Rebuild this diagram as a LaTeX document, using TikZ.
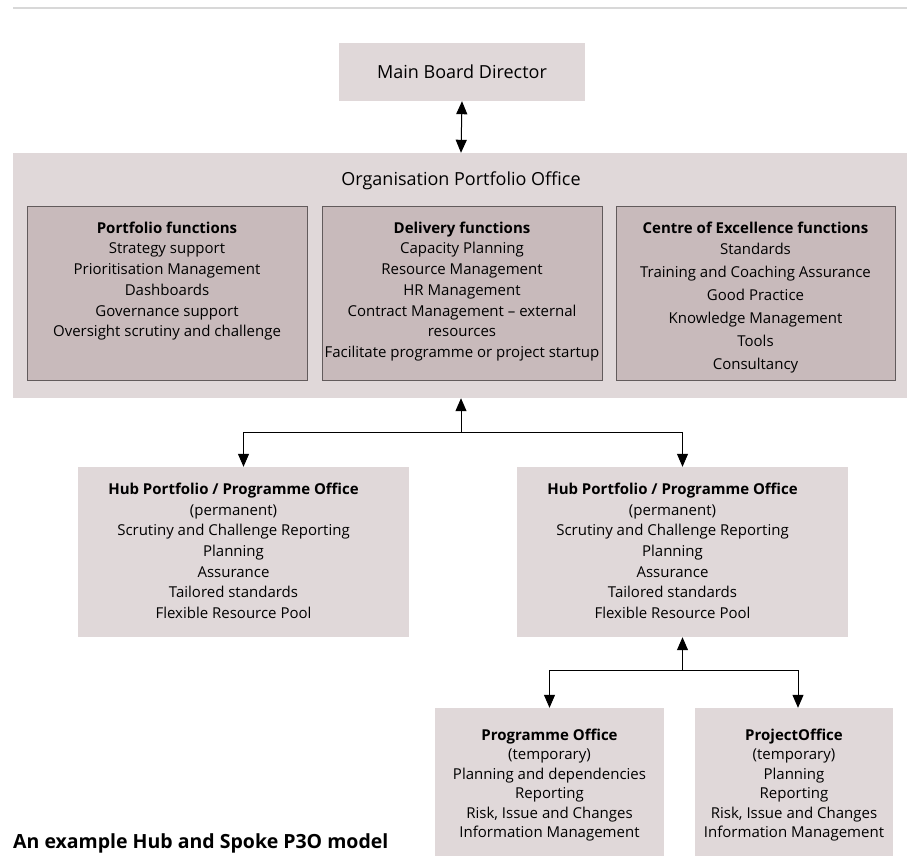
\documentclass[tikz,border=0pt]{standalone}
\usepackage{fontspec}
\setmainfont{Open Sans}
\usetikzlibrary{positioning,arrows.meta}

\definecolor{officefill}{HTML}{E0D8D9}
\definecolor{funcfill}{HTML}{C8BABB}
\definecolor{funcline}{HTML}{625B5C}
\definecolor{rulegray}{HTML}{D8D8D8}

\tikzset{
  office/.style={fill=officefill, inner sep=0pt},
  funcbox/.style={fill=funcfill, draw=funcline, line width=0.9pt, inner sep=0pt},
  boxtext/.style={align=center, inner sep=0pt, anchor=north, font=\fontsize{15}{20.7}\selectfont},
  bigtext/.style={inner sep=0pt, font=\fontsize{18}{22}\selectfont},
  link/.style={line width=1pt, >={Triangle[length=13pt,width=11pt]}, ->},
}

\begin{document}
\begin{tikzpicture}[x=1pt,y=-1pt]
\useasboundingbox (0,0) rectangle (907,855);

% rule at top
  \draw[rulegray, line width=2pt] (13,8) -- (907,8);

% Main board and portfolio office
  \node[office, minimum width=246pt, minimum height=58pt] (main) at (462,72) {};
  \node[bigtext] (maintext) at (main.center) {Main Board Director};

  \node[office, minimum width=896pt, minimum height=245pt] (org) at (461,275.5) {};
  \node[bigtext] (orgtext) at (461,181) {Organisation Portfolio Office};

% Function boxes
  \node[funcbox, minimum width=280pt, minimum height=174pt] (port) at (167,293) {};
  \node[funcbox, minimum width=280pt, minimum height=174pt] (deliv) at (462,293) {};
  \node[funcbox, minimum width=279pt, minimum height=174pt] (coe) at (755.5,293) {};

  \node[boxtext] at ([yshift=-16pt]port.north) {\textbf{Portfolio functions}\\
    Strategy support\\ Prioritisation Management\\ Dashboards\\
    Governance support\\ Oversight scrutiny and challenge};
  \node[boxtext] at ([yshift=-16pt]deliv.north) {\textbf{Delivery functions}\\
    Capacity Planning\\ Resource Management\\ HR Management\\
    Contract Management -- external\\ resources\\
    Facilitate programme or project startup};
  \node[boxtext, font=\fontsize{15}{23}\selectfont] at ([yshift=-16pt]coe.north) {\textbf{Centre of Excellence functions}\\[-2pt]
    Standards\\ Training and Coaching Assurance\\ Good Practice\\
    Knowledge Management\\ Tools\\ Consultancy};

% Hub offices
  \node[office, minimum width=331pt, minimum height=170pt] (hubL) at (243.5,552) {};
  \node[office, minimum width=331pt, minimum height=170pt] (hubR) at (682.5,552) {};
  \foreach \hub in {hubL, hubR}
    \node[boxtext] at ([xshift=-10pt, yshift=-16pt]\hub.north) {\textbf{Hub Portfolio / Programme Office}\\
      (permanent)\\ Scrutiny and Challenge Reporting\\ Planning\\
      Assurance\\ Tailored standards\\ Flexible Resource Pool};

% Temporary offices
  \node[office, minimum width=229pt, minimum height=162pt] (prog) at (549.5,789) {};
  \node[office, minimum width=198pt, minimum height=162pt] (proj) at (794,789) {};
  \node[boxtext, font=\fontsize{15}{19.4}\selectfont] at ([yshift=-21pt]prog.north) {\textbf{Programme Office}\\
    (temporary)\\ Planning and dependencies\\ Reporting\\
    Risk, Issue and Changes\\ Information Management};
  \node[boxtext, font=\fontsize{15}{19.4}\selectfont] at ([yshift=-21pt]proj.north) {\textbf{ProjectOffice}\\
    (temporary)\\ Planning\\ Reporting\\
    Risk, Issue and Changes\\ Information Management};

% Connectors
  \coordinate (split1) at (461,432);
  \coordinate (split2) at (682.5,670);
  \draw[link, <->] (main.south) -- (org.north);
  \draw[link] (split1) -- (org.south);
  \draw[link] (split1) -| (hubL.north);
  \draw[link] (split1) -| (hubR.north);
  \draw[link] (split2) -- (hubR.south);
  \draw[link] (split2) -| (prog.north);
  \draw[link] (split2) -| ([xshift=4pt]proj.north);

% Caption
  \node[anchor=south west, inner sep=0pt, font=\fontsize{19.5}{22}\bfseries] (caption) at (13,853) {An example Hub and Spoke P3O model};
\end{tikzpicture}
\end{document}
